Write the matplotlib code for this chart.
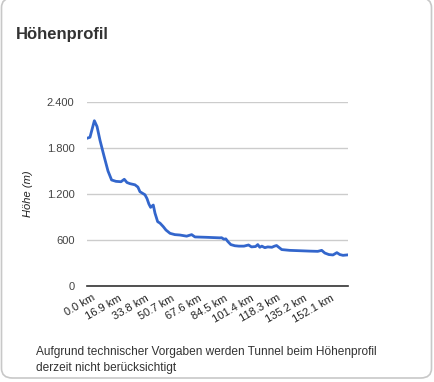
import numpy as np
from matplotlib import pyplot as plt
from matplotlib.patches import FancyBboxPatch
from matplotlib.transforms import ScaledTranslation

plt.rcParams['font.family'] = ['Liberation Sans', 'DejaVu Sans']

# Strecke in km und Höhe in m
km = [0.0, 1.9, 4.7, 6.4, 8.3, 10.8, 13.4, 15.7, 18.5, 21.7, 23.8, 25.5,
      27.4, 30.6, 32.5, 33.8, 37.0, 38.3, 39.5, 40.6, 42.3, 43.4, 45.1, 46.6,
      48.7, 50.4, 53.0, 56.1, 59.3, 63.6, 66.8, 68.9, 76.4, 84.8, 85.9, 87.4,
      88.6, 89.9, 91.8, 94.4, 97.0, 100.2, 103.1, 105.0, 107.6, 109.0, 110.3,
      111.6, 113.5, 115.4, 118.0, 119.7, 121.0, 124.3, 129.4, 135.8, 142.2,
      147.3, 149.8, 151.8, 154.4, 157.0, 159.5, 161.4, 163.4, 165.9]
hoehe = [1927, 1940, 2156, 2080, 1900, 1700, 1500, 1383, 1365, 1360, 1392, 1350,
         1335, 1320, 1290, 1230, 1190, 1140, 1070, 1026, 1056, 950, 839, 820,
         774, 730, 687, 670, 665, 650, 670, 640, 635, 628, 630, 610,
         615, 580, 540, 525, 520, 520, 535, 510, 515, 540, 505,
         520, 500, 510, 505, 520, 528, 475, 465, 460, 455,
         452, 465, 430, 410, 405, 435, 410, 400, 405]

x_ticks = [0.0, 16.9, 33.8, 50.7, 67.6, 84.5, 101.4, 118.3, 135.2, 152.1]
x_labels = ['{} km'.format(t) for t in x_ticks]
y_ticks = [0, 600, 1200, 1800, 2400]
y_labels = ['0', '600', '1.200', '1.800', '2.400']

fig = plt.figure(figsize=(4.35, 3.82), dpi=100)

# Karte mit Rahmen
card = FancyBboxPatch((1.5 / 435, 4 / 382), 430 / 435, 380 / 382,
                      boxstyle='round,pad=0,rounding_size=0.025',
                      transform=fig.transFigure, facecolor='white',
                      edgecolor='#c8c8c8', linewidth=1.2, zorder=-5)
fig.patches.append(card)

fig.text(16 / 435, 1 - 34 / 382, 'Höhenprofil', fontsize=12, fontweight='bold',
         color='#333333', va='center', ha='left')

ax = fig.add_axes([87 / 435, 1 - 286 / 382, 261 / 435, 184 / 382])
ax.set_zorder(2)
ax.patch.set_alpha(0)
ax.plot(km, hoehe, color='#3366cc', linewidth=2, zorder=3)
ax.set_xlim(0, 166.6)
ax.set_ylim(0, 2400)
ax.set_yticks(y_ticks)
ax.set_yticklabels(y_labels)
ax.set_xticks(x_ticks)
ax.set_xticklabels(x_labels, rotation=30, ha='right', rotation_mode='anchor')
ax.tick_params(axis='both', length=0, labelsize=8, colors='#444444')
ax.tick_params(axis='y', pad=9)
ax.tick_params(axis='x', pad=5, labelcolor='#222222')
# Beschriftung etwas nach rechts versetzt wie im Original
off = ScaledTranslation(5 / 100, 0, fig.dpi_scale_trans)
for lab in ax.get_xticklabels():
    lab.set_transform(lab.get_transform() + off)
ax.grid(axis='y', color='#cccccc', linewidth=1)
ax.set_axisbelow(True)
for s in ['top', 'left', 'right']:
    ax.spines[s].set_visible(False)
ax.spines['bottom'].set_color('#333333')
ax.spines['bottom'].set_linewidth(1.2)
ax.spines['bottom'].set_zorder(4)
ax.set_ylabel('Höhe (m)', fontsize=8, fontstyle='italic', color='#222222', labelpad=10)

fig.text(36 / 435, 1 - 352 / 382,
         'Aufgrund technischer Vorgaben werden Tunnel beim Höhenprofil',
         fontsize=8.6, color='#333333', va='center', ha='left')
fig.text(36 / 435, 1 - 368 / 382, 'derzeit nicht berücksichtigt',
         fontsize=8.6, color='#333333', va='center', ha='left')

fig.savefig('out.png', dpi=100)
